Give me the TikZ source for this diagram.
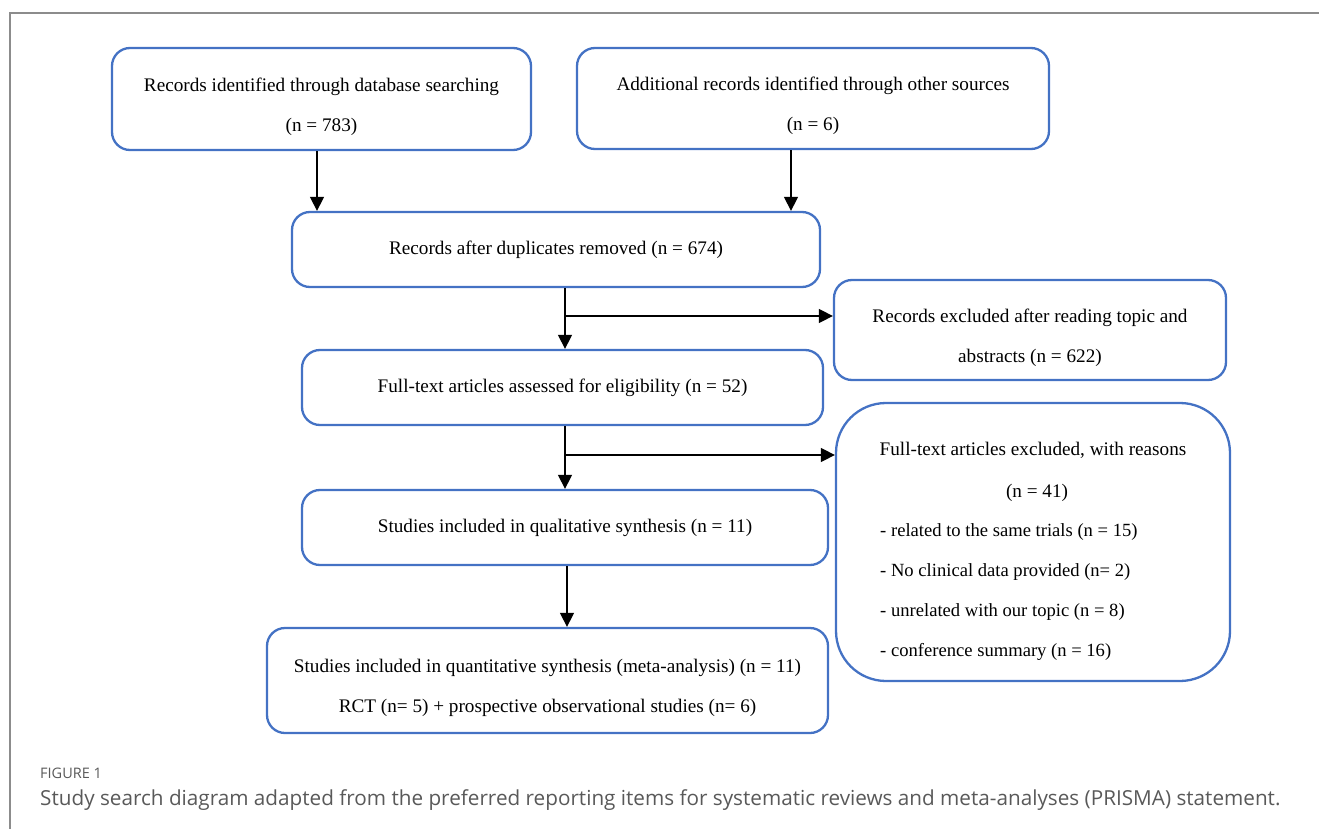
\documentclass[tikz,border=0pt]{standalone}
\usepackage{fontspec}
\setmainfont{Liberation Serif}
\newfontfamily\capfont{Open Sans}
\usetikzlibrary{arrows.meta}
\definecolor{boxblue}{HTML}{4472C4}
\definecolor{capgray}{HTML}{595959}
\definecolor{framegray}{HTML}{8C8C8C}
\begin{document}
\begin{tikzpicture}[x=1pt,y=-1pt,
  box/.style={draw=boxblue, line width=2.3pt, rounded corners=18pt, inner sep=0pt, align=center,
    font={\fontsize{19.2}{40}\selectfont}},
  btxt/.style={inner sep=0pt, align=center, font={\fontsize{19.2}{40}\selectfont}},
  txt/.style={inner sep=0pt, font={\fontsize{19.2}{22}\selectfont}},
  ltxt/.style={inner sep=0pt, font={\fontsize{18.6}{22}\selectfont}},
  arr/.style={line width=1.4pt, -{Triangle[length=14pt,width=14pt]}}]
\useasboundingbox (0,0) rectangle (1319,829);
\draw[framegray, line width=1.5pt] (10,829) -- (10,13) -- (1319,13);

\node[box, minimum width=419pt, minimum height=102pt] (A) at (321.5,99) {};
\node[btxt, yshift=-7.5pt] (At) at (A.center) {Records identified through database searching\\(n = 783)};
\node[box, minimum width=472pt, minimum height=101pt] (B) at (813,98.5) {};
\node[btxt, yshift=-7.5pt] (Bt) at (B.center) {Additional records identified through other sources\\(n = 6)};
\node[box, minimum width=528pt, minimum height=75pt] (C) at (556,249.5) {Records after duplicates removed (n = 674)};
\node[box, minimum width=392pt, minimum height=100pt] (D) at (1030,330) {};
\node[btxt, yshift=-7.5pt] (Dt) at (D.center) {Records excluded after reading topic and\\abstracts (n = 622)};
\node[box, minimum width=521pt, minimum height=75pt] (E) at (562.5,387.5) {Full-text articles assessed for eligibility (n = 52)};
\node[box, rounded corners=50pt, minimum width=394pt, minimum height=278pt] (F) at (1033,542) {};
\node[box, minimum width=526pt, minimum height=75pt] (G) at (565,527.5) {Studies included in qualitative synthesis (n = 11)};
\node[box, minimum width=561pt, minimum height=105pt] (H) at (547.5,680.5) {};
\node[btxt, yshift=-7.5pt] (Ht) at (H.center) {Studies included in quantitative synthesis (meta-analysis) (n = 11)\\RCT (n= 5) + prospective observational studies (n= 6)};

\node[txt, anchor=base] (f1) at (1033,455) {Full-text articles excluded, with reasons};
\node[txt, anchor=base] (f2) at (1037,497) {(n = 41)};
\node[ltxt, anchor=base west] (f3) at (880,536) {- related to the same trials (n = 15)};
\node[ltxt, anchor=base west] (f4) at (880,576) {- No clinical data provided (n= 2)};
\node[ltxt, anchor=base west] (f5) at (880,616) {- unrelated with our topic (n = 8)};
\node[ltxt, anchor=base west] (f6) at (880,656) {- conference summary (n = 16)};

\coordinate (ka) at (317,180);
\coordinate (kb) at (791,180);
\coordinate (kc) at (565,316);
\coordinate (ke) at (565,455);
\coordinate (kg) at (567,596);
\draw[arr] (ka |- A.south) -- (ka |- C.north);
\draw[arr] (kb |- B.south) -- (kb |- C.north);
\draw[arr] (kc |- C.south) -- (kc |- E.north);
\draw[arr] (kc) -- (kc -| D.west);
\draw[arr] (ke |- E.south) -- (ke |- G.north);
\draw[arr] (ke) -- (ke -| F.west);
\draw[arr] (kg |- G.south) -- (kg |- H.north);

\node[anchor=base west, inner sep=0pt, text=capgray, font={\capfont\fontsize{14.5}{16}\selectfont}] (cap1) at (40,778) {FIGURE 1};
\node[anchor=base west, inner sep=0pt, text=capgray, font={\capfont\fontsize{20.7}{24}\selectfont}] (cap2) at (40,805) {Study search diagram adapted from the preferred reporting items for systematic reviews and meta-analyses (PRISMA) statement.};
\end{tikzpicture}
\end{document}
